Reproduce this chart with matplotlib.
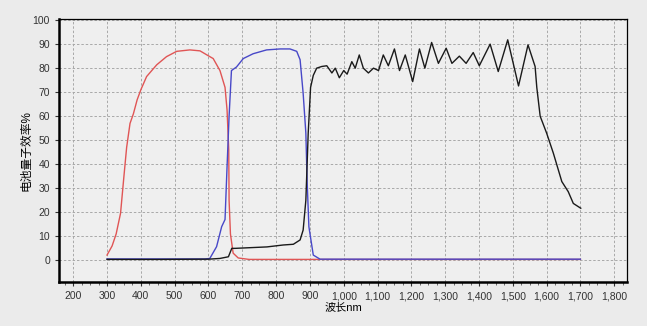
import matplotlib.pyplot as plt
from matplotlib.ticker import MultipleLocator, FuncFormatter

plt.rcParams['font.family'] = ['Liberation Sans', 'Noto Sans CJK SC']

# red curve (visible band)
red_nm = [300, 315, 327, 340, 350, 358, 368, 378, 389, 400, 417, 447, 476, 506, 545,
          575, 604, 614, 634, 649, 655, 660, 661, 665, 673, 688, 720, 900, 1200, 1500, 1700]
red_qe = [2.2, 6, 11, 19.6, 35, 47, 57, 61, 66.8, 71, 76.5, 81.4, 84.8, 87, 87.6,
          87.2, 84.8, 84, 79, 72, 62.6, 46, 25, 11, 3, 1, 0.4, 0.4, 0.4, 0.4, 0.4]

# blue curve
blue_nm = [300, 400, 500, 590, 604, 624, 639, 649, 655, 661, 668, 683, 703, 732, 772,
           812, 841, 861, 871, 880, 888, 892, 897, 910, 930, 1100, 1400, 1700]
blue_qe = [0.6, 0.6, 0.6, 0.6, 0.8, 5.7, 14, 17, 39, 60, 79, 80.5, 84, 86, 87.6,
           88, 88, 87, 83.5, 69.6, 53, 32, 14, 2.2, 0.5, 0.5, 0.5, 0.5]

# black curve (infrared band)
black_nm = [300, 450, 600, 634, 659, 669, 679, 773, 821, 851, 871, 880, 888, 895, 902,
            910, 920, 935, 950, 965, 975, 987, 1000, 1010, 1024, 1034, 1046, 1058, 1073,
            1088, 1103, 1117, 1132, 1150, 1165, 1182, 1204, 1224, 1240, 1260, 1280, 1303,
            1320, 1342, 1362, 1383, 1401, 1433, 1457, 1485, 1517, 1545, 1566, 1571, 1581,
            1600, 1620, 1645, 1664, 1679, 1701]
black_qe = [0.4, 0.4, 0.5, 0.8, 1.5, 5, 5, 5.6, 6.4, 6.7, 8.5, 12.6, 25, 53, 72,
            77, 80, 80.7, 81, 78, 80, 76, 79, 77.5, 82.7, 80, 85.5, 80, 78,
            80, 79, 85.5, 81, 88, 79, 85.5, 74.4, 88, 80, 90.7, 82, 88.3,
            82, 85, 82, 86.5, 81, 90, 78.6, 91.8, 72.6, 89.7, 80.7, 72, 60,
            53, 44.6, 32.8, 28.6, 23.7, 21.7]

fig = plt.figure(figsize=(6.47, 3.26), dpi=100, facecolor='#ebebeb')
ax = fig.add_axes([0.0912, 0.135, 0.878, 0.807])
ax.set_facecolor('#efefef')

ax.plot(red_nm, red_qe, color='#e05555', lw=1.0)
ax.plot(blue_nm, blue_qe, color='#4848c8', lw=1.0)
ax.plot(black_nm, black_qe, color='#1a1a1a', lw=1.0)

ax.set_xlim(158, 1838)
ax.set_ylim(-9, 100.5)
ax.xaxis.set_major_locator(MultipleLocator(100))
ax.xaxis.set_minor_locator(MultipleLocator(25))
ax.yaxis.set_major_locator(MultipleLocator(10))
ax.xaxis.set_major_formatter(FuncFormatter(lambda v, p: f'{v:,.0f}'))

ax.grid(True, which='major', color='#a8a8a8', ls=(0, (2.5, 2)), lw=0.7)
ax.set_axisbelow(True)
ax.tick_params(axis='both', which='major', labelsize=7.5, colors='#333333', length=3, width=0.8)
ax.tick_params(axis='x', which='minor', length=2, width=0.6, colors='#555555')

for side in ['left', 'bottom']:
    ax.spines[side].set_linewidth(1.8)
for side in ['top', 'right']:
    ax.spines[side].set_linewidth(0.9)

ax.set_xlabel('波长nm', fontsize=8, labelpad=1)
ax.set_ylabel('电池量子效率%', fontsize=8.5)
ax.yaxis.set_label_coords(-0.047, 0.5)

fig.savefig('out.png', dpi=100, facecolor=fig.get_facecolor())
